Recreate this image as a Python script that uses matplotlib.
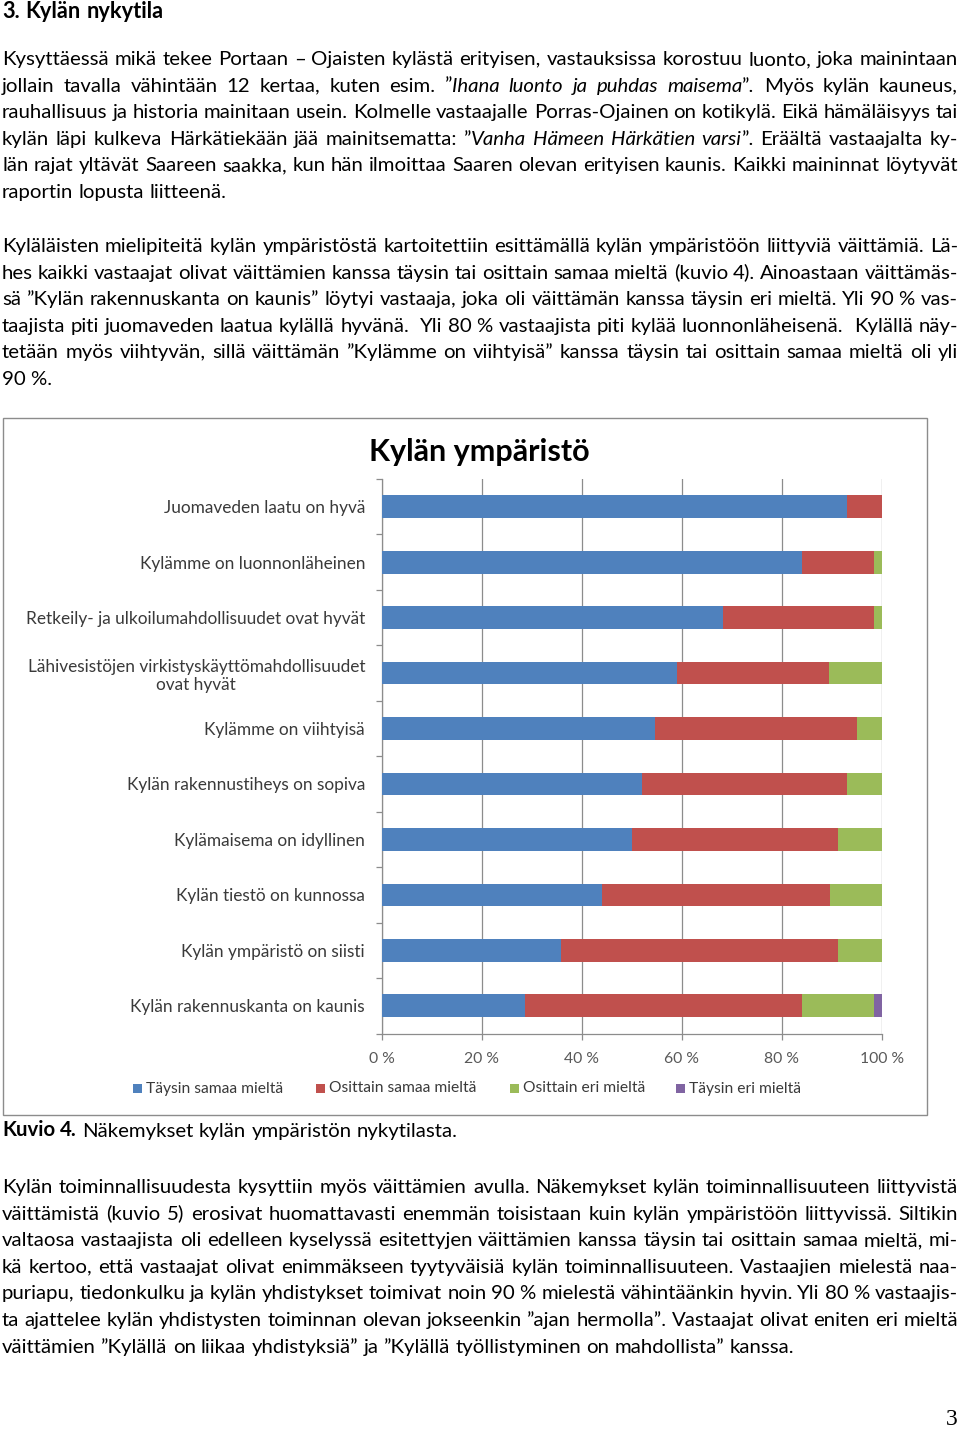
import matplotlib
matplotlib.use("Agg")
import matplotlib.pyplot as plt
from matplotlib.patches import Rectangle
import numpy as np

# ---------------- data ----------------
categories = [
    "Juomaveden laatu on hyvä",
    "Kylämme on luonnonläheinen",
    "Retkeily- ja ulkoilumahdollisuudet ovat hyvät",
    "Lähivesistöjen virkistyskäyttömahdollisuudet\novat hyvät",
    "Kylämme on viihtyisä",
    "Kylän rakennustiheys on sopiva",
    "Kylämaisema on idyllinen",
    "Kylän tiestö on kunnossa",
    "Kylän ympäristö on siisti",
    "Kylän rakennuskanta on kaunis",
]
taysin_samaa = [93.0, 84.0, 68.2, 59.0, 54.5, 52.0, 50.0, 44.0, 35.8, 28.6]
osittain_samaa = [7.0, 14.3, 30.1, 30.4, 40.4, 41.0, 41.2, 45.6, 55.4, 55.4]
osittain_eri = [0.0, 1.7, 1.7, 10.6, 5.1, 7.0, 8.8, 10.4, 8.8, 14.3]
taysin_eri = [0.0, 0.0, 0.0, 0.0, 0.0, 0.0, 0.0, 0.0, 0.0, 1.7]
series_names = ["Täysin samaa mieltä", "Osittain samaa mieltä",
                "Osittain eri mieltä", "Täysin eri mieltä"]
series_colors = ["#4F81BD", "#C0504D", "#9BBB59", "#8064A2"]
x_ticks = [0, 20, 40, 60, 80, 100]
x_ticklabels = ["0 %", "20 %", "40 %", "60 %", "80 %", "100 %"]
chart_title = "Kylän ympäristö"

heading = "[3. Kylän nykytila]"
para1 = [
    "Kysyttäessä mikä tekee Portaan – Ojaisten kylästä erityisen, vastauksissa korostuu luonto, joka mainintaan",
    "jollain tavalla vähintään 12 kertaa, kuten esim. ”{Ihana luonto ja puhdas maisema}”. Myös kylän kauneus,",
    "rauhallisuus ja historia mainitaan usein. Kolmelle vastaajalle Porras-Ojainen on kotikylä. Eikä hämäläisyys tai",
    "kylän läpi kulkeva Härkätiekään jää mainitsematta: ”{Vanha Hämeen Härkätien varsi}”. Eräältä vastaajalta ky-",
    "län rajat yltävät Saareen saakka, kun hän ilmoittaa Saaren olevan erityisen kaunis. Kaikki maininnat löytyvät",
    "raportin lopusta liitteenä.",
]
para2 = [
    "Kyläläisten mielipiteitä kylän ympäristöstä kartoitettiin esittämällä kylän ympäristöön liittyviä väittämiä. Lä-",
    "hes kaikki vastaajat olivat väittämien kanssa täysin tai osittain samaa mieltä (kuvio 4). Ainoastaan väittämäs-",
    "sä ”Kylän rakennuskanta on kaunis” löytyi vastaaja, joka oli väittämän kanssa täysin eri mieltä. Yli 90\u00a0% vas-",
    "taajista piti juomaveden laatua kylällä hyvänä.  Yli 80\u00a0% vastaajista piti kylää luonnonläheisenä.  Kylällä näy-",
    "tetään myös viihtyvän, sillä väittämän ”Kylämme on viihtyisä” kanssa täysin tai osittain samaa mieltä oli yli",
    "90\u00a0%.",
]
caption = "[Kuvio 4.] Näkemykset kylän ympäristön nykytilasta."
para3 = [
    "Kylän toiminnallisuudesta kysyttiin myös väittämien avulla. Näkemykset kylän toiminnallisuuteen liittyvistä",
    "väittämistä (kuvio 5) erosivat huomattavasti enemmän toisistaan kuin kylän ympäristöön liittyvissä. Siltikin",
    "valtaosa vastaajista oli edelleen kyselyssä esitettyjen väittämien kanssa täysin tai osittain samaa mieltä, mi-",
    "kä kertoo, että vastaajat olivat enimmäkseen tyytyväisiä kylän toiminnallisuuteen. Vastaajien mielestä naa-",
    "puriapu, tiedonkulku ja kylän yhdistykset toimivat noin 90\u00a0% mielestä vähintäänkin hyvin. Yli 80\u00a0% vastaajis-",
    "ta ajattelee kylän yhdistysten toiminnan olevan jokseenkin ”ajan hermolla”. Vastaajat olivat eniten eri mieltä",
    "väittämien ”Kylällä on liikaa yhdistyksiä” ja ”Kylällä työllistyminen on mahdollista” kanssa.",
]

# ---------------- figure ----------------
W, H = 960, 1429
fig = plt.figure(figsize=(W / 100, H / 100), dpi=100)
fig.patch.set_facecolor("white")
renderer = fig.canvas.get_renderer()
FONT = "Lato"


def fx(x):
    return x / W


def fy(y):
    return 1 - y / H


def text_width(s, **kw):
    t = fig.text(0, 0, s, family=FONT, **kw)
    w = t.get_window_extent(renderer).width
    t.remove()
    return w


def fit_size(s, target, **kw):
    return 10 * target / text_width(s, size=10, **kw)


STYLES = {"n": {}, "i": {"style": "italic"}, "b": {"weight": "bold"}}


def parse(line):
    words, cur, buf, style = [], [], "", "n"
    for ch in line:
        if ch in "{[":
            if buf:
                cur.append((buf, style)); buf = ""
            style = "i" if ch == "{" else "b"
        elif ch in "}]":
            if buf:
                cur.append((buf, style)); buf = ""
            style = "n"
        elif ch == " ":
            if buf:
                cur.append((buf, style)); buf = ""
            words.append(cur); cur = []
        else:
            buf += ch
    if buf:
        cur.append((buf, style))
    words.append(cur)
    return words


def draw_line(line, baseline, size, justify, x0=2, x1=958, color="black"):
    words = parse(line)
    widths = []
    for w in words:
        widths.append(sum(text_width(p, size=size, **STYLES[s]) for p, s in w))
    space = text_width("x x", size=size) - text_width("xx", size=size)
    if justify and len(words) > 1:
        gap = (x1 - x0 - sum(widths)) / (len(words) - 1)
    else:
        gap = space
    x = x0
    for w, ww in zip(words, widths):
        xx = x
        for p, s in w:
            fig.text(fx(xx), fy(baseline), p, family=FONT, size=size,
                     va="baseline", ha="left", color=color, **STYLES[s])
            xx += text_width(p, size=size, **STYLES[s])
        x += ww + gap


body = fit_size("raportin lopusta liitteenä.", 225)
head = fit_size("3. Kylän nykytila", 161, weight="bold")

draw_line(heading, 18.5, head, False)
step = 26.6
for i, ln in enumerate(para1):
    draw_line(ln, 65 + i * step, body, i < len(para1) - 1)
for i, ln in enumerate(para2):
    draw_line(ln, 252 + i * step, body, i < len(para2) - 1)
draw_line(caption, 1136.5, body, False)
for i, ln in enumerate(para3):
    draw_line(ln, 1193 + i * step, body, i < len(para3) - 1)

fig.text(fx(958), fy(1425), "3", family="Liberation Serif", size=17,
         ha="right", va="baseline", color="black")

# ---------------- chart ----------------
fig.patches.append(Rectangle((fx(3), fy(1115)), (927 - 3) / W, (1115 - 418) / H,
                             transform=fig.transFigure, fill=False,
                             edgecolor="#8c8c8c", lw=1.0))

title_size = fit_size(chart_title, 221, weight="bold")
fig.text(fx(479.5), fy(461.5), chart_title, family=FONT, weight="bold",
         size=title_size, ha="center", va="baseline", color="black")

ax = fig.add_axes([fx(382), fy(1033.5), 500 / W, (1033.5 - 479) / H])
y = np.arange(len(categories))
left = np.zeros(len(categories))
for vals, name, col in zip([taysin_samaa, osittain_samaa, osittain_eri, taysin_eri],
                           series_names, series_colors):
    ax.barh(y, vals, left=left, height=0.41, color=col, label=name,
            edgecolor="none", zorder=3)
    left = left + np.array(vals)

ax.set_xlim(0, 100)
ax.set_ylim(len(categories) - 0.5, -0.5)
ax.set_axisbelow(True)
ax.xaxis.grid(True, color="#8c8c8c", lw=0.9, zorder=0)
ax.yaxis.grid(False)
for s in ["top", "right"]:
    ax.spines[s].set_visible(False)
for s in ["left", "bottom"]:
    ax.spines[s].set_color("#8c8c8c")
    ax.spines[s].set_linewidth(0.9)

cat_size = fit_size("Juomaveden laatu on hyvä", 202)
tick_size = fit_size("100 %", 44)
ax.set_yticks(y)
ax.set_yticklabels(categories, family=FONT, size=cat_size, color="#3a3a3a")
for lab in ax.get_yticklabels():
    lab.set_multialignment("center")
ax.set_yticks(np.arange(len(categories) + 1) - 0.5, minor=True)
ax.tick_params(axis="y", which="major", length=0, pad=12.2)
ax.tick_params(axis="y", which="minor", length=4, color="#8c8c8c", width=0.9)
ax.set_xticks(x_ticks)
ax.set_xticklabels(x_ticklabels, family=FONT, size=tick_size, color="#595959")
ax.tick_params(axis="x", length=4, color="#8c8c8c", width=0.9, pad=9)

leg_size = fit_size("Täysin samaa mieltä", 137)
leg_x = [133, 316, 510, 676]
for xl, name, col in zip(leg_x, series_names, series_colors):
    fig.patches.append(Rectangle((fx(xl), fy(1093)), 9 / W, 9 / H,
                                 transform=fig.transFigure, facecolor=col,
                                 edgecolor="none"))
    fig.text(fx(xl + 13), fy(1088.5), name, family=FONT, size=leg_size,
             ha="left", va="center", color="#3a3a3a")

fig.savefig("out.png", dpi=100, facecolor="white")
